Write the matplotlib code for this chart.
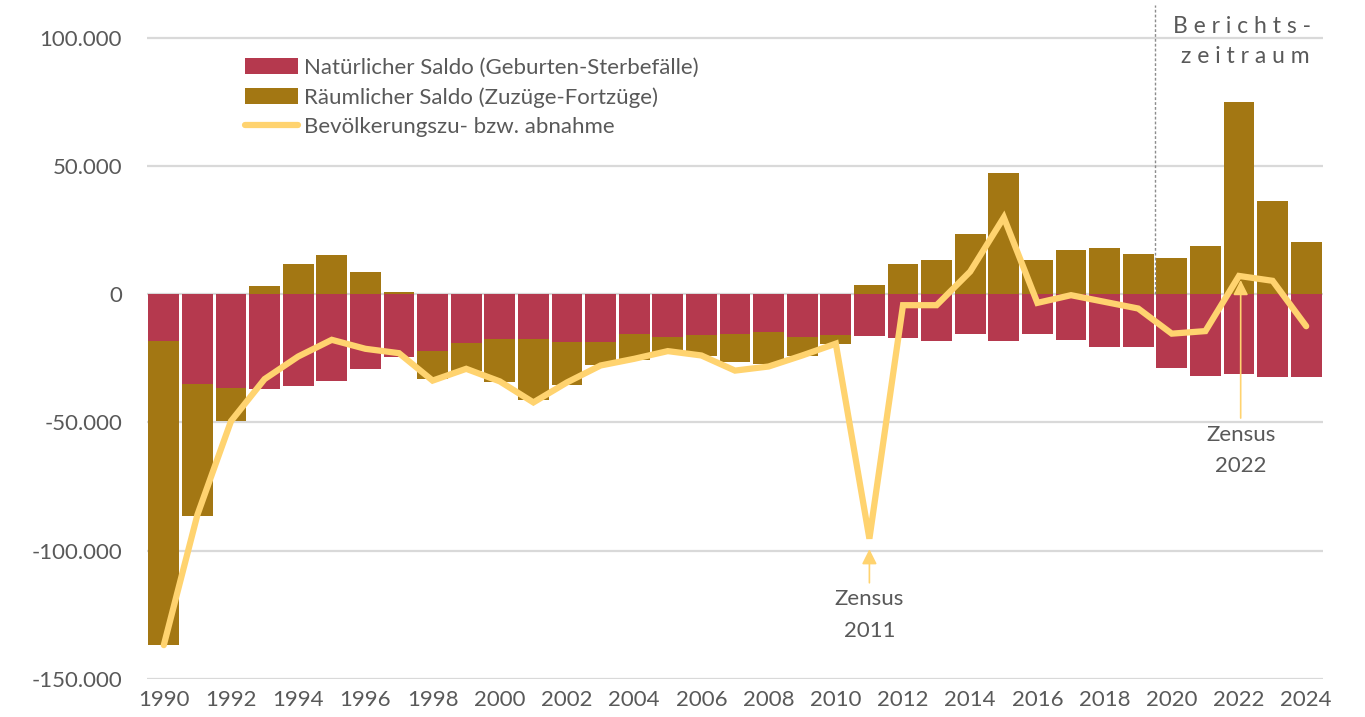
import matplotlib
matplotlib.use("Agg")
import matplotlib.pyplot as plt
from matplotlib.ticker import FuncFormatter
import numpy as np

plt.rcParams['font.family'] = ['Lato', 'DejaVu Sans']

years = np.arange(1990, 2025)

# natural balance (births - deaths)
natuerlich = np.array([
    -18.4, -35.0, -36.6, -36.9, -35.8, -33.7, -29.1, -24.6, -22.0, -19.2,
    -17.4, -17.4, -18.8, -18.8, -15.4, -16.6, -15.8, -15.4, -14.6, -16.6,
    -16.1, -16.3, -16.9, -18.3, -15.4, -18.2, -15.6, -17.9, -20.7, -20.7,
    -28.9, -32.0, -31.1, -32.2, -32.4]) * 1000

# migration balance (in - out)
raeumlich = np.array([
    -118.2, -51.3, -12.9, 3.1, 11.8, 15.3, 8.6, 0.8, -11.2, -10.7,
    -17.0, -23.9, -16.5, -8.9, -10.2, -6.9, -8.3, -11.1, -12.6, -7.7,
    -3.5, 3.5, 11.8, 13.3, 23.4, 47.2, 13.2, 17.3, 17.9, 15.7,
    14.2, 18.8, 74.8, 36.2, 20.5]) * 1000

# population change (incl. census corrections)
veraenderung = np.array([
    -136.8, -86.0, -49.5, -33.1, -24.3, -17.8, -21.3, -23.0, -33.7, -29.1,
    -34.0, -42.2, -34.4, -27.8, -25.2, -22.2, -23.9, -29.8, -28.2, -23.9,
    -19.3, -95.3, -4.3, -4.3, 8.8, 29.9, -3.4, -0.4, -3.0, -5.6,
    -15.4, -14.4, 7.1, 5.2, -12.5]) * 1000

labels = ["Natürlicher Saldo (Geburten-Sterbefälle)",
          "Räumlicher Saldo (Zuzüge-Fortzüge)",
          "Bevölkerungszu- bzw. abnahme"]

c_red = "#B5394E"
c_olive = "#A37713"
c_line = "#FFD36F"
c_text = "#595959"
c_grid = "#D9D9D9"

fig = plt.figure(figsize=(13.65, 7.17), dpi=100)
ax = fig.add_axes([147/1365, 1 - 679/717, 1176/1365, 674/717])

ax.set_xlim(1989.5, 2024.5)
ax.set_ylim(-150000, 112700)

for v in [-150000, -100000, -50000, 0, 50000, 100000]:
    ax.axhline(v, color=c_grid, lw=1.6, zorder=0)

bw = 0.92
b1 = ax.bar(years, natuerlich, width=bw, color=c_red, zorder=2)
bottom_r = np.where(raeumlich < 0, natuerlich, 0)
b2 = ax.bar(years, raeumlich, width=bw, bottom=bottom_r, color=c_olive,
            zorder=2)
l1, = ax.plot(years, veraenderung, color=c_line, lw=4.5, zorder=4,
              solid_capstyle='round', solid_joinstyle='miter')

# reporting period marker
ax.plot([2019.5, 2019.5], [0, 112700], color="#8C8C8C", lw=1, ls=(0, (2, 1.5)),
        zorder=3)
ax.text(2022.1, 101800, "B e r i c h t s -", ha='center', va='baseline',
        fontsize=16.5, color=c_text)
ax.text(2022.2, 90100, "z e i t r a u m", ha='center', va='baseline',
        fontsize=16.5, color=c_text)

# census annotations
arrow = dict(arrowstyle='-|>,head_length=0.9,head_width=0.45', color=c_line,
             lw=1.2, shrinkA=0, shrinkB=0)
ax.annotate("", xy=(2011, -99400), xytext=(2011, -112500), arrowprops=arrow,
            zorder=5)
ax.text(2011, -121300, "Zensus", ha='center', va='baseline', fontsize=16,
        color=c_text)
ax.text(2011, -133800, "2011", ha='center', va='baseline', fontsize=16,
        color=c_text)
ax.annotate("", xy=(2022.05, 5500), xytext=(2022.05, -48300), arrowprops=arrow,
            zorder=5)
ax.text(2022.05, -57100, "Zensus", ha='center', va='baseline', fontsize=16,
        color=c_text)
ax.text(2022.05, -69200, "2022", ha='center', va='baseline', fontsize=16,
        color=c_text)

ax.set_xticks(years[::2])
ax.set_yticks([-150000, -100000, -50000, 0, 50000, 100000])
ax.yaxis.set_major_formatter(FuncFormatter(
    lambda v, p: f"{v:,.0f}".replace(",", ".")))
ax.tick_params(axis='both', length=0, labelsize=16, labelcolor=c_text)
ax.tick_params(axis='y', pad=18)
ax.tick_params(axis='x', pad=8)
for s in ax.spines.values():
    s.set_visible(False)

fig.legend([b1, b2, l1], labels, loc='upper left',
           bbox_to_anchor=(245/1365, 1 - 58/717),
           frameon=False, fontsize=16, labelcolor=c_text, handlelength=2.4,
           handletextpad=0.25, labelspacing=0.41, borderpad=0,
           borderaxespad=0)

fig.savefig("out.png", dpi=100)
